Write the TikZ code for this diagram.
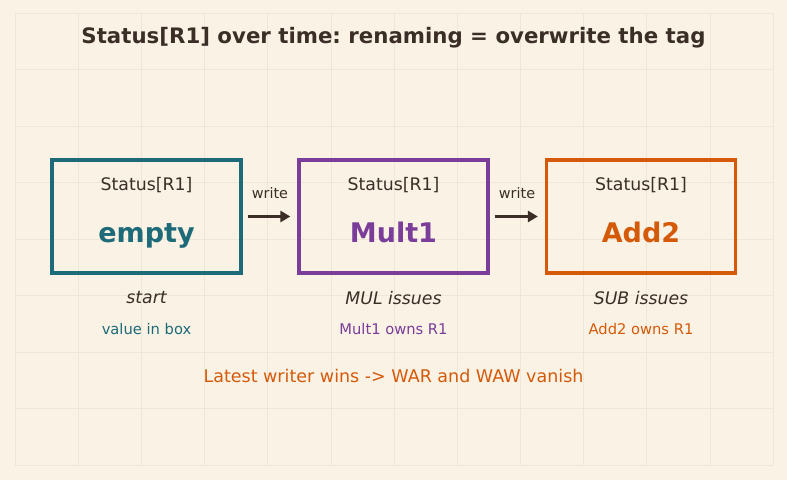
\documentclass[tikz,border=0pt]{standalone}
\usepackage{fontspec}
\setmainfont{DejaVu Sans}
\usetikzlibrary{arrows.meta}
\frenchspacing
\definecolor{bg}{HTML}{FAF2E4}
\definecolor{gridc}{HTML}{EEE6D6}
\definecolor{ink}{HTML}{3A2E26}
\definecolor{teal}{HTML}{1D6A78}
\definecolor{purp}{HTML}{7A3D9A}
\definecolor{oran}{HTML}{D45A0A}
\tikzset{
  x=1pt,y=1pt,
  regbox/.style={draw=#1, line width=3.2pt, minimum width=189pt, minimum height=113pt, inner sep=0pt},
  hdr/.style={text=ink, font=\fontsize{17.3}{19}\selectfont},
  val/.style={text=#1, anchor=base, font=\fontsize{27}{31}\selectfont\bfseries},
  who/.style={text=ink, font=\fontsize{17.3}{19}\selectfont\itshape},
  own/.style={text=#1, font=\fontsize{14.7}{16}\selectfont},
  wlab/.style={text=ink, font=\fontsize{14.4}{16}\selectfont},
  flow/.style={draw=ink, line width=2.6pt, -{Triangle[length=10pt,width=11pt]}}
}
\begin{document}
\begin{tikzpicture}
\fill[bg] (0,0) rectangle (787,480);
\useasboundingbox (0,0) rectangle (787,480);
\foreach \i in {0,...,12} {\draw[gridc, line width=0.5pt] ({15+\i*63.17},15) -- ({15+\i*63.17},467);}
\foreach \j in {0,...,8} {\draw[gridc, line width=0.5pt] (15,{467-\j*56.5}) -- (773,{467-\j*56.5});}

\node[text=ink, font=\fontsize{21.3}{24}\selectfont\bfseries] (title) at (393.5,442) {\frenchspacing Status[R1] over time: renaming = overwrite the tag};

\node[regbox=teal] (b1) at (146.5,263.5) {};
\node[regbox=purp] (b2) at (393.5,263.5) {};
\node[regbox=oran] (b3) at (641,263.5) {};

\node[hdr] (h1) at (146.5,295) {Status[R1]};
\node[hdr] (h2) at (393.5,295) {Status[R1]};
\node[hdr] (h3) at (641,295) {Status[R1]};

\node[val=teal] (v1) at (146.5,238) {empty};
\node[val=purp] (v2) at (393.5,238) {Mult1};
\node[val=oran] (v3) at (641,238) {Add2};

\node[who] (w1) at (146.5,182) {start};
\node[who] (w2) at (393.5,182) {MUL issues};
\node[who] (w3) at (641,182) {SUB issues};

\node[own=teal] (o1) at (146.5,151) {value in box};
\node[own=purp] (o2) at (393.5,151) {Mult1 owns R1};
\node[own=oran] (o3) at (641,151) {Add2 owns R1};

\draw[flow] (b1.east) ++(5,0) coordinate (a1s) -- ([xshift=-7pt]b2.west);
\draw[flow] (b2.east) ++(5,0) coordinate (a2s) -- ([xshift=-7pt]b3.west);
\node[wlab] (l1) at (270,287) {write};
\node[wlab] (l2) at (517,287) {write};

\node[text=oran, font=\fontsize{17.5}{20}\selectfont] (foot) at (393.5,104) {Latest writer wins -> WAR and WAW vanish};
\end{tikzpicture}
\end{document}
